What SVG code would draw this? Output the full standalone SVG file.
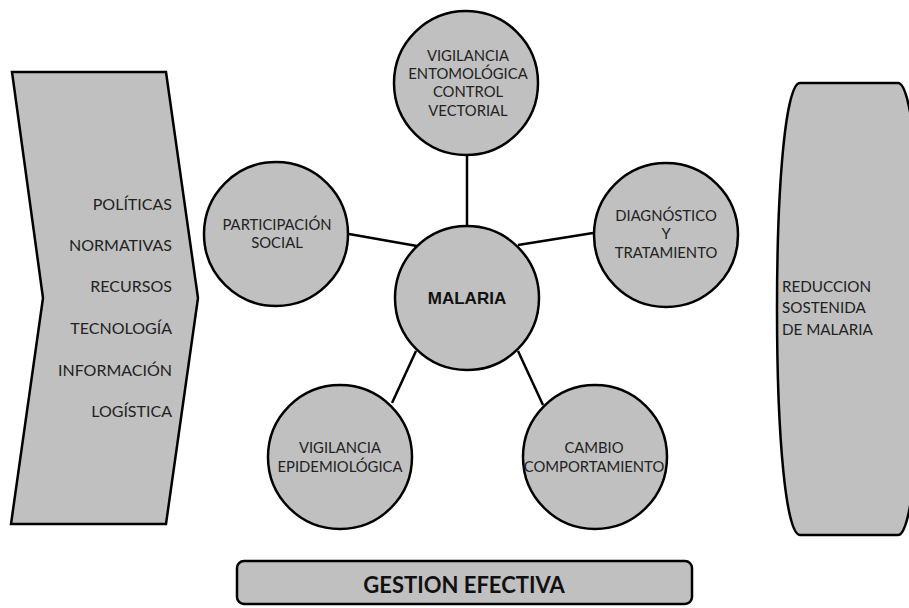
<svg xmlns="http://www.w3.org/2000/svg" width="909" height="608" viewBox="0 0 909 608">
<style>
.shape{fill:#c0c0c0;stroke:#000;stroke-width:2.5}
.lbl{font-family:Lato,"Liberation Sans",sans-serif;font-size:14.8px;fill:#222;text-anchor:middle}
.list{font-family:Lato,"Liberation Sans",sans-serif;font-size:16px;fill:#222;text-anchor:end}
.conn line{stroke:#000;stroke-width:2.5}
</style>
<rect width="909" height="608" fill="#fff"/>
<g id="insumos">
<polygon class="shape" points="12,72 166,72 198,298 166,524 11,524 43,298"/>
<text class="list" x="172" y="210">POLÍTICAS</text>
<text class="list" x="172" y="251">NORMATIVAS</text>
<text class="list" x="172" y="292">RECURSOS</text>
<text class="list" x="172" y="334">TECNOLOGÍA</text>
<text class="list" x="172" y="376">INFORMACIÓN</text>
<text class="list" x="172" y="417">LOGÍSTICA</text>
</g>
<g id="resultado">
<path class="shape" d="M800,83 C786,83 777,180 777,309 C777,438 786,535 800,535 H898 C912,535 921,438 921,309 C921,180 912,83 898,83 Z"/>
<text font-family="Lato,'Liberation Sans',sans-serif" font-size="15.2px" fill="#222"><tspan x="782" y="292">REDUCCION</tspan><tspan x="782" y="313">SOSTENIDA</tspan><tspan x="782" y="335">DE MALARIA</tspan></text>
</g>
<g class="conn" id="connectors">
<line x1="467" y1="155" x2="467" y2="226"/>
<line x1="349" y1="234" x2="417" y2="246"/>
<line x1="518" y1="245" x2="593" y2="233"/>
<line x1="416" y1="351" x2="392" y2="403"/>
<line x1="518" y1="351" x2="543" y2="405"/>
</g>
<g id="vigilancia-entomologica">
<circle class="shape" cx="466" cy="83" r="72"/>
<text class="lbl"><tspan x="468" y="61">VIGILANCIA</tspan><tspan x="468" y="79">ENTOMOLÓGICA</tspan><tspan x="468" y="97">CONTROL</tspan><tspan x="468" y="116">VECTORIAL</tspan></text>
</g>
<g id="participacion">
<circle class="shape" cx="276" cy="234" r="72"/>
<text class="lbl"><tspan x="277" y="230">PARTICIPACIÓN</tspan><tspan x="277" y="248">SOCIAL</tspan></text>
</g>
<g id="diagnostico">
<circle class="shape" cx="666" cy="235" r="72"/>
<text class="lbl"><tspan x="666" y="221">DIAGNÓSTICO</tspan><tspan x="666" y="239">Y</tspan><tspan x="666" y="258">TRATAMIENTO</tspan></text>
</g>
<g id="malaria">
<circle class="shape" cx="467" cy="298" r="72"/>
<text x="467" y="304" font-family="'Liberation Sans',Arial,sans-serif" font-weight="bold" font-size="17px" fill="#111" text-anchor="middle">MALARIA</text>
</g>
<g id="vigilancia-epidemiologica">
<circle class="shape" cx="340" cy="457" r="72"/>
<text class="lbl"><tspan x="340" y="453">VIGILANCIA</tspan><tspan x="340" y="472">EPIDEMIOLÓGICA</tspan></text>
</g>
<g id="cambio">
<circle class="shape" cx="595" cy="457" r="72"/>
<text class="lbl"><tspan x="594" y="453">CAMBIO</tspan><tspan x="594" y="472">COMPORTAMIENTO</tspan></text>
</g>
<g id="gestion">
<rect class="shape" x="237" y="561" width="455" height="43" rx="7"/>
<text x="464" y="593" font-family="Lato,'Liberation Sans',sans-serif" font-weight="bold" font-size="22px" fill="#111" text-anchor="middle">GESTION EFECTIVA</text>
</g>
</svg>
